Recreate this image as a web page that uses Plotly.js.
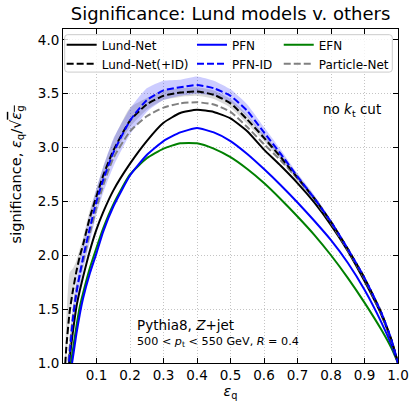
<!DOCTYPE html>
<html>
<head>
<meta charset="utf-8">
<script src="https://cdn.plot.ly/plotly-3.0.1.min.js"></script>
<style>
html,body{margin:0;padding:0;background:#fff;}
#chart{width:412px;height:401px;}
</style>
</head>
<body>
<div id="chart"></div>
<script>
// quark efficiency grid
const epsQ = [0.005, 0.01, 0.02, 0.03, 0.04, 0.05, 0.06, 0.08, 0.1, 0.12, 0.15, 0.2, 0.25, 0.3, 0.35, 0.4, 0.45, 0.5, 0.55, 0.6, 0.65, 0.7, 0.75, 0.8, 0.85, 0.9, 0.95, 0.98, 1.0];

const lundNet      = [0.6, 0.76, 1.05, 1.3, 1.52, 1.67, 1.8, 2.04, 2.24, 2.4, 2.6, 2.85, 3.06, 3.23, 3.32, 3.35, 3.33, 3.27, 3.15, 2.98, 2.83, 2.67, 2.49, 2.28, 2.04, 1.76, 1.45, 1.21, 1.0];
const lundNetID    = [0.9, 1.15, 1.48, 1.68, 1.85, 1.99, 2.1, 2.35, 2.55, 2.74, 2.97, 3.25, 3.4, 3.48, 3.51, 3.52, 3.49, 3.41, 3.26, 3.09, 2.91, 2.72, 2.53, 2.31, 2.06, 1.79, 1.47, 1.22, 1.0];
const pfn          = [0.45, 0.6, 0.85, 1.06, 1.27, 1.45, 1.6, 1.83, 2.02, 2.22, 2.45, 2.74, 2.93, 3.06, 3.14, 3.18, 3.14, 3.06, 2.94, 2.8, 2.65, 2.49, 2.32, 2.14, 1.93, 1.68, 1.38, 1.17, 1.0];
const pfnID        = [0.55, 0.75, 1.08, 1.42, 1.65, 1.82, 1.98, 2.25, 2.5, 2.7, 2.95, 3.25, 3.44, 3.53, 3.56, 3.58, 3.55, 3.48, 3.34, 3.14, 2.94, 2.73, 2.53, 2.31, 2.06, 1.79, 1.47, 1.22, 1.0];
const efn          = [0.5, 0.65, 0.92, 1.13, 1.34, 1.52, 1.65, 1.88, 2.07, 2.25, 2.47, 2.75, 2.9, 2.99, 3.04, 3.04, 2.99, 2.91, 2.8, 2.67, 2.52, 2.36, 2.19, 2.0, 1.79, 1.56, 1.31, 1.14, 1.0];
const particleNet  = [0.65, 0.8, 1.15, 1.45, 1.68, 1.82, 1.94, 2.2, 2.44, 2.65, 2.9, 3.15, 3.29, 3.37, 3.41, 3.42, 3.4, 3.33, 3.19, 3.03, 2.88, 2.71, 2.52, 2.3, 2.05, 1.78, 1.46, 1.21, 1.0];

// uncertainty bands
const pfnIDHigh    = [0.7, 0.9, 1.22, 1.56, 1.78, 1.95, 2.1, 2.38, 2.62, 2.82, 3.08, 3.36, 3.55, 3.62, 3.63, 3.66, 3.62, 3.54, 3.4, 3.19, 2.98, 2.76, 2.56, 2.33, 2.08, 1.8, 1.48, 1.22, 1.0];
const pfnIDLow     = [0.45, 0.62, 0.95, 1.28, 1.52, 1.7, 1.86, 2.12, 2.38, 2.58, 2.82, 3.12, 3.33, 3.44, 3.48, 3.5, 3.48, 3.42, 3.29, 3.09, 2.9, 2.7, 2.5, 2.29, 2.04, 1.78, 1.46, 1.21, 1.0];
const lundNetIDHigh= [1.0, 1.4, 1.84, 1.88, 1.95, 2.06, 2.16, 2.42, 2.62, 2.82, 3.07, 3.37, 3.46, 3.53, 3.55, 3.56, 3.53, 3.45, 3.3, 3.12, 2.94, 2.75, 2.55, 2.33, 2.08, 1.8, 1.48, 1.22, 1.0];
const lundNetIDLow = [0.8, 1.05, 1.4, 1.62, 1.8, 1.94, 2.05, 2.3, 2.5, 2.69, 2.92, 3.19, 3.35, 3.44, 3.47, 3.48, 3.45, 3.37, 3.22, 3.06, 2.88, 2.69, 2.51, 2.29, 2.04, 1.78, 1.46, 1.21, 1.0];

const xTicks = [0.1, 0.2, 0.3, 0.4, 0.5, 0.6, 0.7, 0.8, 0.9, 1.0];
const xTickText = ['0.1','0.2','0.3','0.4','0.5','0.6','0.7','0.8','0.9','1.0'];
const yTicks = [1.0, 1.5, 2.0, 2.5, 3.0, 3.5, 4.0];
const yTickText = ['1.0','1.5','2.0','2.5','3.0','3.5','4.0'];

const FONT = 'DejaVu Sans, sans-serif';
const DASH = '7px,3px';

function band(lo, hi, color) {
  return [
    {x: epsQ, y: lo, mode: 'lines', line: {width: 0, shape: 'spline', smoothing: 0.5}, showlegend: false, hoverinfo: 'skip'},
    {x: epsQ, y: hi, mode: 'lines', line: {width: 0, shape: 'spline', smoothing: 0.5}, fill: 'tonexty', fillcolor: color, showlegend: false, hoverinfo: 'skip'}
  ];
}
function curve(y, name, color, dash, legend) {
  return {x: epsQ, y: y, name: name, mode: 'lines', legend: legend,
          line: {color: color, width: 2, dash: dash, shape: 'spline', smoothing: 0.5}};
}

const traces = [].concat(
  band(lundNetIDLow, lundNetIDHigh, 'rgba(128,128,128,0.3)'),
  band(pfnIDLow, pfnIDHigh, 'rgba(0,0,255,0.2)'),
  [
    curve(efn, 'EFN', '#008000', 'solid', 'legend3'),
    curve(pfn, 'PFN', '#0000ff', 'solid', 'legend2'),
    curve(lundNet, 'Lund-Net', '#000000', 'solid', 'legend'),
    curve(particleNet, 'Particle-Net', '#808080', DASH, 'legend3'),
    curve(lundNetID, 'Lund-Net(+ID)', '#000000', DASH, 'legend'),
    curve(pfnID, 'PFN-ID', '#0000ff', DASH, 'legend2')
  ]
);

// legend frame (paper coordinates)
const fx0 = 0.005, fx1 = 0.983, fy0 = 0.871, fy1 = 0.983, rx = 0.009, ry = 0.009;
const framePath = `M${fx0+rx},${fy1} L${fx1-rx},${fy1} Q${fx1},${fy1} ${fx1},${fy1-ry} L${fx1},${fy0+ry} Q${fx1},${fy0} ${fx1-rx},${fy0} L${fx0+rx},${fy0} Q${fx0},${fy0} ${fx0},${fy0+ry} L${fx0},${fy1-ry} Q${fx0},${fy1} ${fx0+rx},${fy1} Z`;

const legendBase = {bgcolor: 'rgba(0,0,0,0)', borderwidth: 0, font: {family: FONT, size: 12, color: '#000'},
  xanchor: 'left', yanchor: 'top', y: 0.996, tracegroupgap: 0, itemwidth: 30, traceorder: 'normal'};

const axisCommon = {
  showline: true, linecolor: '#000', linewidth: 1, mirror: 'ticks',
  ticks: 'inside', ticklen: 5, tickwidth: 1, tickcolor: '#000',
  showgrid: true, gridcolor: '#c4c4c4', gridwidth: 1, griddash: '1px,2px',
  zeroline: false, tickfont: {family: FONT, size: 13.5, color: '#000'}
};

const layout = {
  width: 412, height: 401,
  margin: {l: 63, r: 14, t: 29, b: 38, pad: 0},
  paper_bgcolor: '#fff', plot_bgcolor: '#fff',
  title: {text: 'Significance: Lund models v. others', font: {family: FONT, size: 18, color: '#000'},
          x: 0.5, xref: 'paper', xanchor: 'center', y: 0.966, yref: 'container', yanchor: 'middle'},
  xaxis: Object.assign({}, axisCommon, {range: [0, 1], tickvals: xTicks, ticktext: xTickText,
          title: {text: '<i>ε</i><sub>q</sub>', font: {family: FONT, size: 14, color: '#000'}, standoff: 6}}),
  yaxis: Object.assign({}, axisCommon, {range: [1.0, 4.1], tickvals: yTicks, ticktext: yTickText}),
  showlegend: true,
  legend: Object.assign({}, legendBase, {x: -0.004}),
  legend2: Object.assign({}, legendBase, {x: 0.385}),
  legend3: Object.assign({}, legendBase, {x: 0.644}),
  shapes: [{type: 'path', xref: 'paper', yref: 'paper', path: framePath,
            fillcolor: 'rgba(255,255,255,0.8)', line: {color: '#cccccc', width: 1}, layer: 'above'}],
  annotations: [
    {text: 'significance, <i>ε</i><sub>q</sub>/√<span style="text-decoration:overline"><i>ε</i><sub>g</sub></span>',
     xref: 'paper', yref: 'paper', x: -0.137, y: 0.565, textangle: -90, showarrow: false,
     xanchor: 'center', yanchor: 'middle', font: {family: FONT, size: 14.5, color: '#000'}},
    {text: 'no <i>k</i><sub>t</sub> cut', xref: 'paper', yref: 'paper', x: 0.954, y: 0.756,
     xanchor: 'right', yanchor: 'middle', showarrow: false, font: {family: FONT, size: 13.5, color: '#000'}},
    {text: 'Pythia8, <i>Z</i>+jet', xref: 'paper', yref: 'paper', x: 0.216, y: 0.1146,
     xanchor: 'left', yanchor: 'middle', showarrow: false, font: {family: FONT, size: 13.5, color: '#000'}},
    {text: '500 &lt; <i>p</i><sub>t</sub> &lt; 550 GeV, <i>R</i> = 0.4', xref: 'paper', yref: 'paper', x: 0.216, y: 0.0637,
     xanchor: 'left', yanchor: 'middle', showarrow: false, font: {family: FONT, size: 11.2, color: '#000'}}
  ],
  hovermode: false
};

Plotly.newPlot('chart', traces, layout, {displayModeBar: false, staticPlot: true});
</script>
</body>
</html>
